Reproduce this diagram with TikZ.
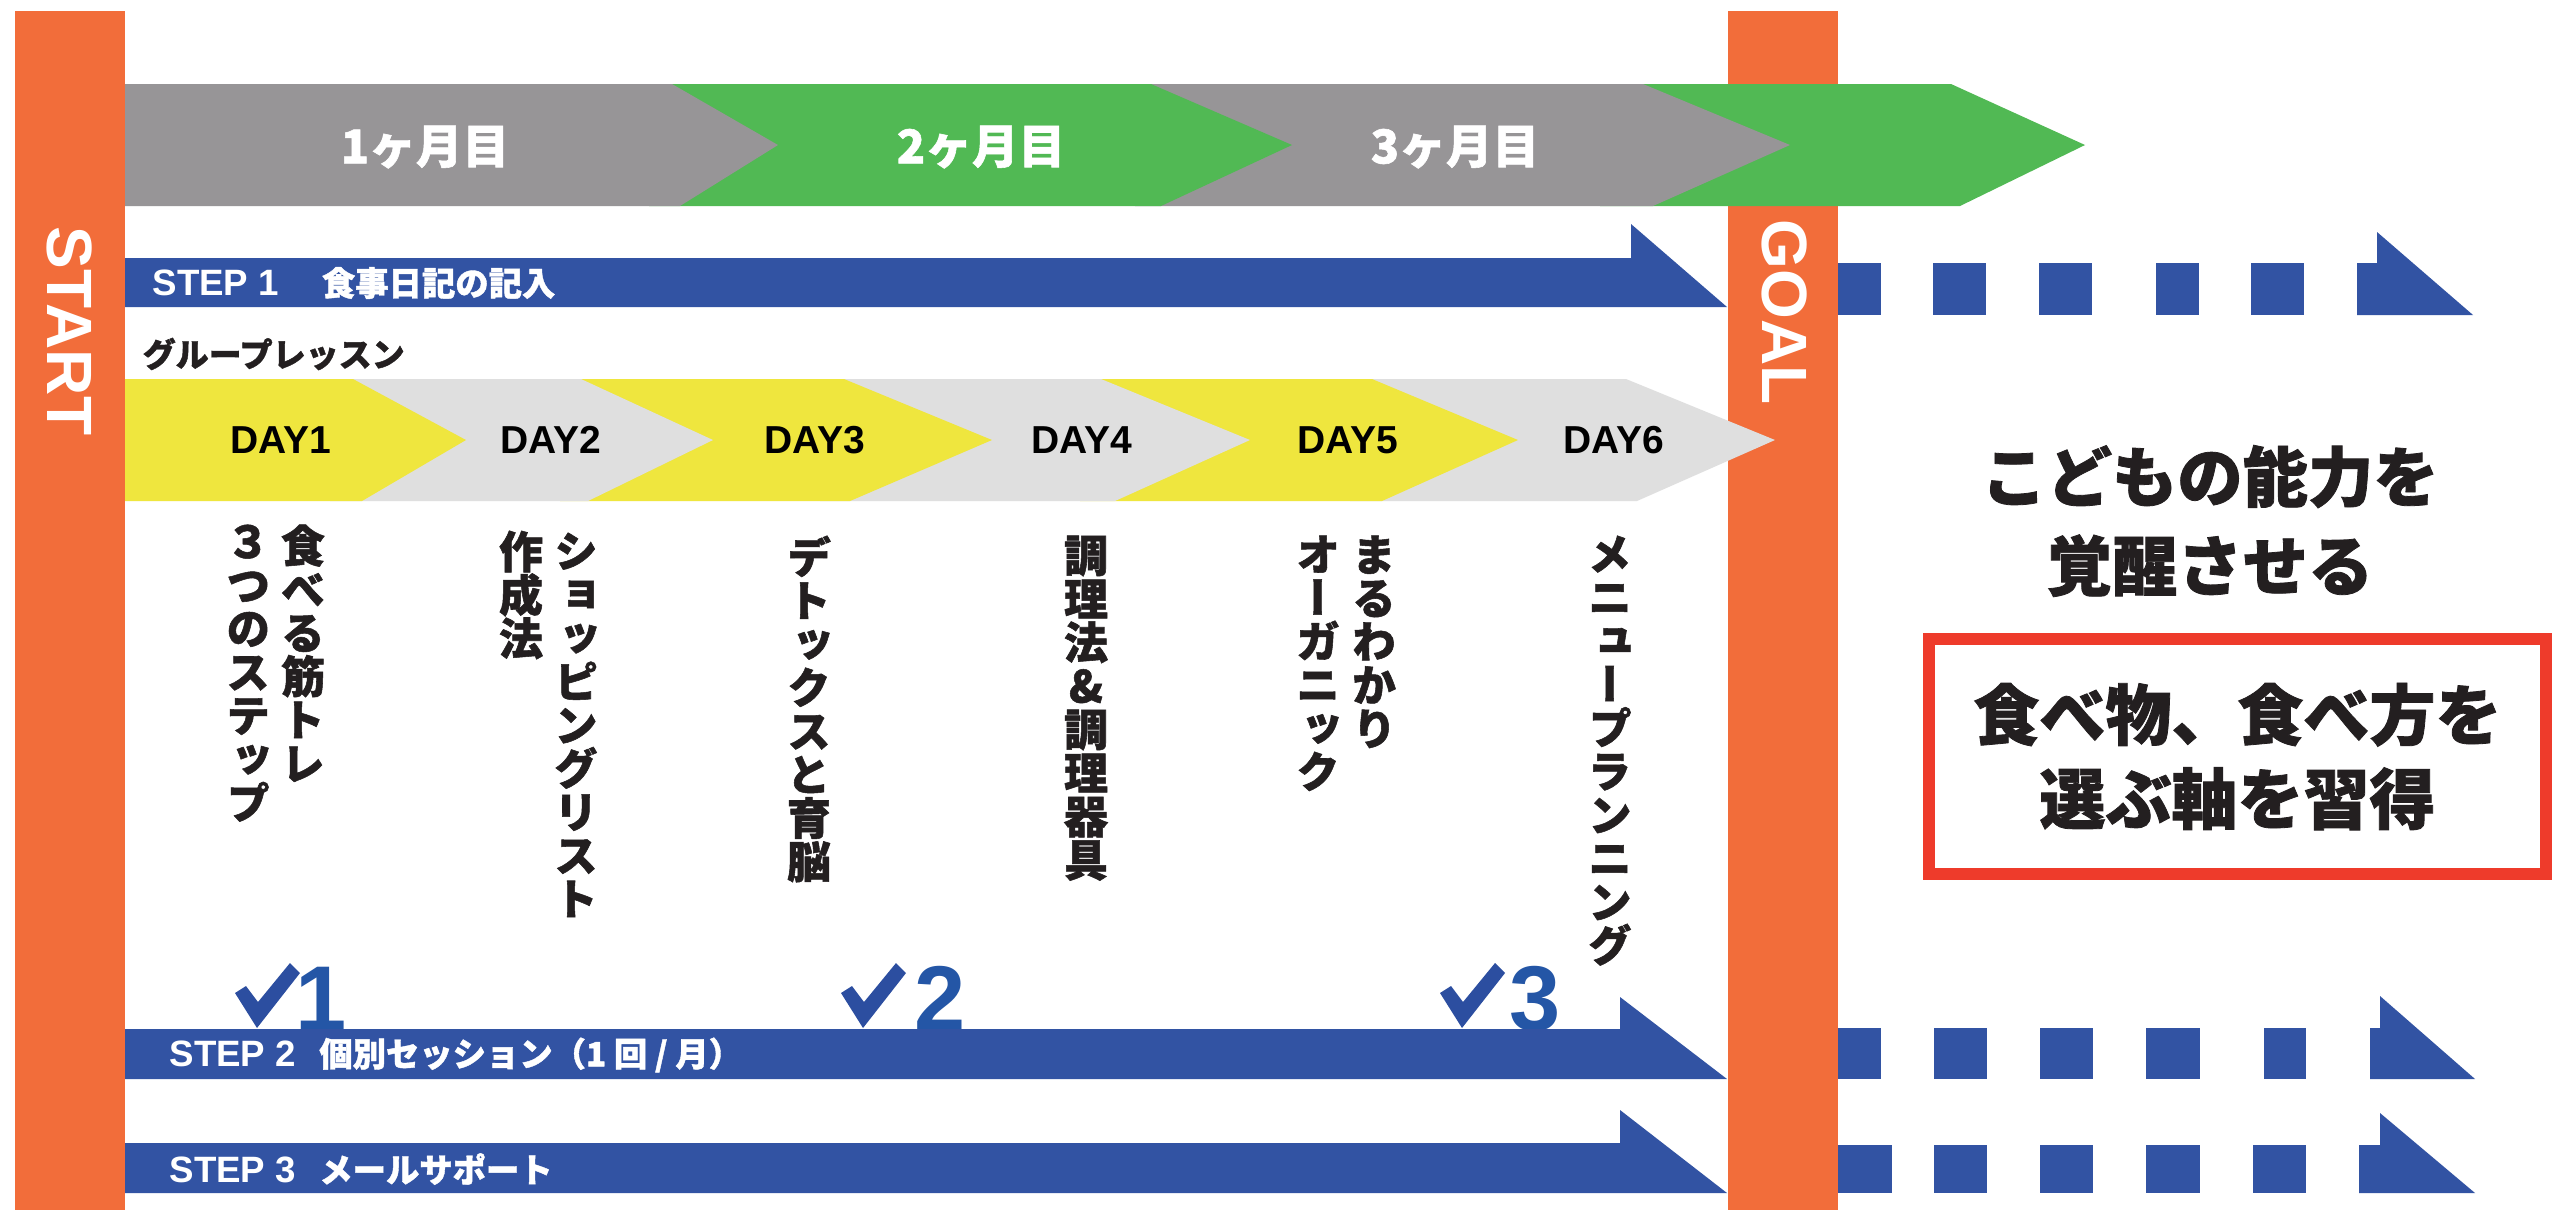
\documentclass[tikz,border=0pt]{standalone}
\usepackage{fontspec}
\setmainfont{Liberation Sans}
\newfontfamily\jp{Noto Sans CJK JP}[BoldFeatures={FakeBold=1.2}]
\newfontfamily\jpv{Noto Sans CJK JP}[RawFeature=+vert,BoldFeatures={FakeBold=1.2}]
\definecolor{orng}{HTML}{F26D3A}
\definecolor{mgray}{HTML}{979597}
\definecolor{mgreen}{HTML}{51B954}
\definecolor{sblue}{HTML}{3253A3}
\definecolor{dyellow}{HTML}{EFE63E}
\definecolor{dgray}{HTML}{DFDFDF}
\definecolor{ckblue}{HTML}{2C4EA0}
\definecolor{dgblue}{HTML}{2456A6}
\definecolor{rbox}{HTML}{EE3B2B}
\definecolor{ink}{HTML}{231F20}
\newcommand\tightlines{\lineskiplimit-100pt\relax\lineskip0pt\relax}
\tikzset{
  monthtxt/.style={text=white, inner sep=0pt, font=\jp\bfseries\fontsize{14pt}{14pt}\selectfont},
  daytxt/.style={text=black, inner sep=0pt, font=\bfseries\fontsize{11.7pt}{12pt}\selectfont},
  steptxt/.style={text=white, anchor=west, inner sep=0pt, font=\bfseries\fontsize{11pt}{12pt}\selectfont},
  vtext/.style={text=ink, anchor=north, inner sep=0pt, align=center,
     font=\jpv\bfseries\fontsize{13.2pt}{13.05pt}\selectfont\tightlines},
  bartxt/.style={text=white, inner sep=0pt, rotate=-90, font=\bfseries\fontsize{19.2pt}{20pt}\selectfont},
  digit/.style={text=dgblue, anchor=base, inner sep=0pt, font=\bfseries\fontsize{27.6pt}{28pt}\selectfont},
  bigjp/.style={text=ink, align=center, inner sep=0pt, font=\jp\bfseries\fontsize{19.6pt}{26.7pt}\selectfont\tightlines},
  goalbox/.style={draw=rbox, line width=3.6pt, minimum width=185.1pt, minimum height=70.5pt,
     inner sep=0pt, align=center, text=ink, font=\jp\bfseries\fontsize{19.8pt}{25.2pt}\selectfont\tightlines}
}
\newcommand\jpstep[1]{{\jp\bfseries\fontsize{10pt}{12pt}\selectfont #1}}
\newcommand\chkmark{(235,993) -- (257,1028) -- (300,973) -- (290,963) -- (258,1002) -- (246,986) -- cycle}
\begin{document}
\begin{tikzpicture}[x=0.3pt,y=-0.3pt]
\useasboundingbox (0,0) rectangle (2566,1210);
\fill[white] (0,0) rectangle (2566,1210);
% START / GOAL bars
\fill[orng] (15,11) rectangle (125,1210);
\fill[orng] (1728,11) rectangle (1838,1210);
% month band
\fill[mgreen] (1600,84) -- (1951,84) -- (2085,145) -- (1960,206) -- (1600,206) -- cycle;
\fill[mgray] (1135,84) -- (1643,84) -- (1790,145) -- (1653,206) -- (1135,206) -- cycle;
\fill[mgreen] (649,84) -- (1151,84) -- (1292,145) -- (1161,206) -- (649,206) -- cycle;
\fill[mgray] (125,84) -- (672,84) -- (778,145) -- (680,206) -- (125,206) -- cycle;
\node[monthtxt] (m1) at (425,147) {1ヶ月目};
\node[monthtxt] (m2) at (981,147) {2ヶ月目};
\node[monthtxt] (m3) at (1455,147) {3ヶ月目};
% day band
\fill[dgray] (1350,379) -- (1626,379) -- (1775,440) -- (1637,501) -- (1350,501) -- cycle;
\fill[dyellow] (1080,379) -- (1372,379) -- (1518,440) -- (1382,501) -- (1080,501) -- cycle;
\fill[dgray] (820,379) -- (1101,379) -- (1250,440) -- (1115,501) -- (820,501) -- cycle;
\fill[dyellow] (560,379) -- (844,379) -- (992,440) -- (850,501) -- (560,501) -- cycle;
\fill[dgray] (330,379) -- (581,379) -- (713,440) -- (588,501) -- (330,501) -- cycle;
\fill[dyellow] (125,379) -- (353,379) -- (466,440) -- (362,501) -- (125,501) -- cycle;
\node[daytxt] (day1) at (281,440) {DAY1};
\node[daytxt] (day2) at (551,440) {DAY2};
\node[daytxt] (day3) at (815,440) {DAY3};
\node[daytxt] (day4) at (1082,440) {DAY4};
\node[daytxt] (day5) at (1348,440) {DAY5};
\node[daytxt] (day6) at (1614,440) {DAY6};
% bar texts
\node[bartxt] (start) at (70,331) {START};
\node[bartxt] (goal) at (1785,312) {GOAL};
% group lesson label
\node[anchor=west, inner sep=0pt, text=ink, font=\jp\bfseries\fontsize{9.9pt}{10pt}\selectfont] (group) at (142,354) {グループレッスン};
% vertical texts
\node[vtext] (d1a) at (303,524) {食\\べ\\る\\筋\\ト\\レ};
\node[vtext] (d1b) at (248,524) {３\\つ\\の\\ス\\テ\\ッ\\プ};
\node[vtext] (d2a) at (576,532) {シ\\ョ\\ッ\\ピ\\ン\\グ\\リ\\ス\\ト};
\node[vtext] (d2b) at (521,530) {作\\成\\法};
\node[vtext] (d3) at (809,535) {デ\\ト\\ッ\\ク\\ス\\と\\育\\脳};
\node[vtext] (d4) at (1086,535) {調\\理\\法\\\&\\調\\理\\器\\具};
\node[vtext] (d5a) at (1374,535) {ま\\る\\わ\\か\\り};
\node[vtext] (d5b) at (1318,535) {オ\\ー\\ガ\\ニ\\ッ\\ク};
\node[vtext] (d6) at (1610,535) {メ\\ニ\\ュ\\ー\\プ\\ラ\\ン\\ニ\\ン\\グ};
% check marks
\fill[ckblue] \chkmark;
\begin{scope}[shift={(606,0)}]\fill[ckblue] \chkmark;\end{scope}
\begin{scope}[shift={(1205,0)}]\fill[ckblue] \chkmark;\end{scope}
\node[digit] (c1) at (321,1030) {1};
\node[digit] (c2) at (940,1030) {2};
\node[digit] (c3) at (1535,1030) {3};
% STEP arrows
\fill[sblue] (125,258) -- (1631,258) -- (1631,224) -- (1727,307) -- (125,307) -- cycle;
\fill[sblue] (125,1029) -- (1620,1029) -- (1620,997) -- (1727,1079) -- (125,1079) -- cycle;
\fill[sblue] (125,1143) -- (1620,1143) -- (1620,1110) -- (1727,1193) -- (125,1193) -- cycle;
\node[steptxt] (s1) at (152,283) {STEP 1\hspace{12.9pt}\jpstep{食事日記の記入}};
\node[steptxt] (s2) at (169,1055) {STEP 2\hspace{7pt}\jpstep{個別セッション（1 回 / 月）}};
\node[steptxt] (s3) at (169,1169) {STEP 3\hspace{7pt}\jpstep{メールサポート}};
% dashed continuations
\foreach \a/\b in {1838/1881,1933/1986,2039/2092,2156/2199,2251/2304}
  \fill[sblue] (\a,263) rectangle (\b,315);
\fill[sblue] (2357,263) -- (2377,263) -- (2377,232) -- (2473,315) -- (2357,315) -- cycle;
\foreach \a/\b in {1838/1881,1934/1987,2040/2093,2146/2200,2264/2306}
  \fill[sblue] (\a,1028) rectangle (\b,1079);
\fill[sblue] (2370,1028) -- (2380,1028) -- (2380,996) -- (2475,1079) -- (2370,1079) -- cycle;
\foreach \a/\b in {1838/1892,1934/1987,2040/2093,2146/2200,2253/2306}
  \fill[sblue] (\a,1145) rectangle (\b,1193);
\fill[sblue] (2359,1145) -- (2380,1145) -- (2380,1113) -- (2475,1193) -- (2359,1193) -- cycle;
% right side
\node[bigjp] (kodomo) at (2210,521) {こどもの能力を\\覚醒させる};
\node[goalbox] (box) at (2237.5,756.5) {食べ物、食べ方を\\選ぶ軸を習得};
\end{tikzpicture}
\end{document}
